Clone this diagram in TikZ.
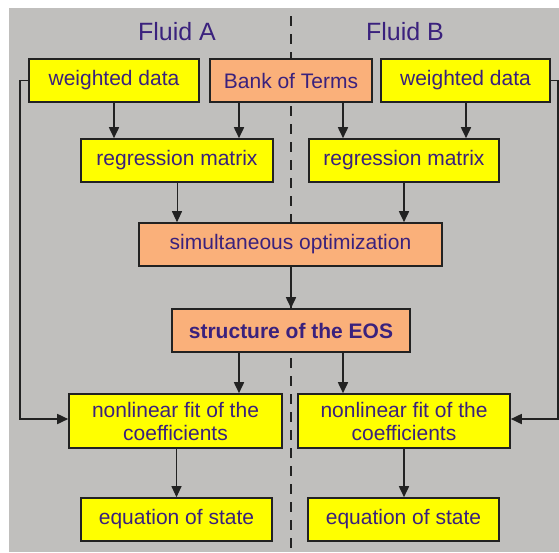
\documentclass[tikz,border=0pt]{standalone}
\usepackage{fontspec}
\setmainfont{Liberation Sans}
\usetikzlibrary{arrows.meta}
\definecolor{bggray}{RGB}{192,191,189}
\definecolor{boxyellow}{RGB}{255,255,0}
\definecolor{boxorange}{RGB}{250,176,122}
\definecolor{txtpurple}{RGB}{58,33,125}
\definecolor{edgedark}{RGB}{34,34,34}
\tikzset{
  base/.style={draw=edgedark, line width=1.6pt, inner sep=0pt, align=center,
    text=txtpurple, font=\fontsize{21}{23}\selectfont, minimum height=43pt},
  ybox/.style={base, fill=boxyellow},
  obox/.style={base, fill=boxorange},
  arr/.style={draw=edgedark, line width=1.7pt, -{Triangle[width=10pt,length=11pt]}},
  thinarr/.style={draw=edgedark, line width=1pt, -{Triangle[width=10pt,length=11pt]}},
  title/.style={text=txtpurple, font=\fontsize{25}{28}\selectfont, inner sep=0pt}
}
\begin{document}
\begin{tikzpicture}[x=1pt,y=-1pt]
\useasboundingbox (0,0) rectangle (559,552);
\fill[bggray] (9,8) rectangle (559,552);
\draw[edgedark, line width=2pt, dash pattern=on 10pt off 8pt] (291,16) -- (291,552);

\node[title] (fa) at (177,32) {Fluid A};
\node[title] (fb) at (405,32) {Fluid B};

\node[ybox, minimum width=170pt] (wdA) at (114,80.5) {weighted data};
\node[obox, minimum width=162pt] (bank) at (291,80.5) {Bank of Terms};
\node[ybox, minimum width=169pt] (wdB) at (465.5,80.5) {weighted data};
\node[ybox, minimum width=192pt] (rmA) at (177,160.5) {regression matrix};
\node[ybox, minimum width=190pt] (rmB) at (404,160.5) {regression matrix};
\node[obox, minimum width=303pt] (simo) at (290.5,244.5) {simultaneous optimization};
\node[obox, minimum width=238pt, font=\fontsize{21}{23}\selectfont\bfseries] (eos) at (291,330.5) {structure of the EOS};
\node[ybox, minimum width=213pt, minimum height=54pt] (nlA) at (175.5,421) {nonlinear fit of the\\coefficients};
\node[ybox, minimum width=212pt, minimum height=54pt] (nlB) at (404,421) {nonlinear fit of the\\coefficients};
\node[ybox, minimum width=191pt] (eqA) at (176.5,519.5) {equation of state};
\node[ybox, minimum width=191pt] (eqB) at (403.5,519.5) {equation of state};

\draw[arr] (wdA.south) -- (wdA.south |- rmA.north);
\draw[arr] ([xshift=-52pt]bank.south) -- ([xshift=-52pt]bank.south |- rmA.north);
\draw[arr] ([xshift=52pt]bank.south) -- ([xshift=52pt]bank.south |- rmB.north);
\draw[arr] ([xshift=0.5pt]wdB.south) -- ([xshift=0.5pt]wdB.south |- rmB.north);
\draw[thinarr] (rmA.south) -- (rmA.south |- simo.north);
\draw[arr] (rmB.south) -- (rmB.south |- simo.north);
\draw[arr] (simo.south -| eos.north) -- (eos.north);
\draw[arr] ([xshift=-52pt]eos.south) -- ([xshift=-52pt]eos.south |- nlA.north);
\draw[arr] ([xshift=52pt]eos.south) -- ([xshift=52pt]eos.south |- nlB.north);
\draw[thinarr] (nlA.south -| eqA.north) -- (eqA.north);
\draw[arr] (nlB.south) -- (nlB.south |- eqB.north);
\draw[arr] (wdA.west) -- ++(-8,0) |- ([yshift=2pt]nlA.west);
\draw[arr] (wdB.east) -- ++(7,0) |- ([yshift=2pt]nlB.east);
\end{tikzpicture}
\end{document}
